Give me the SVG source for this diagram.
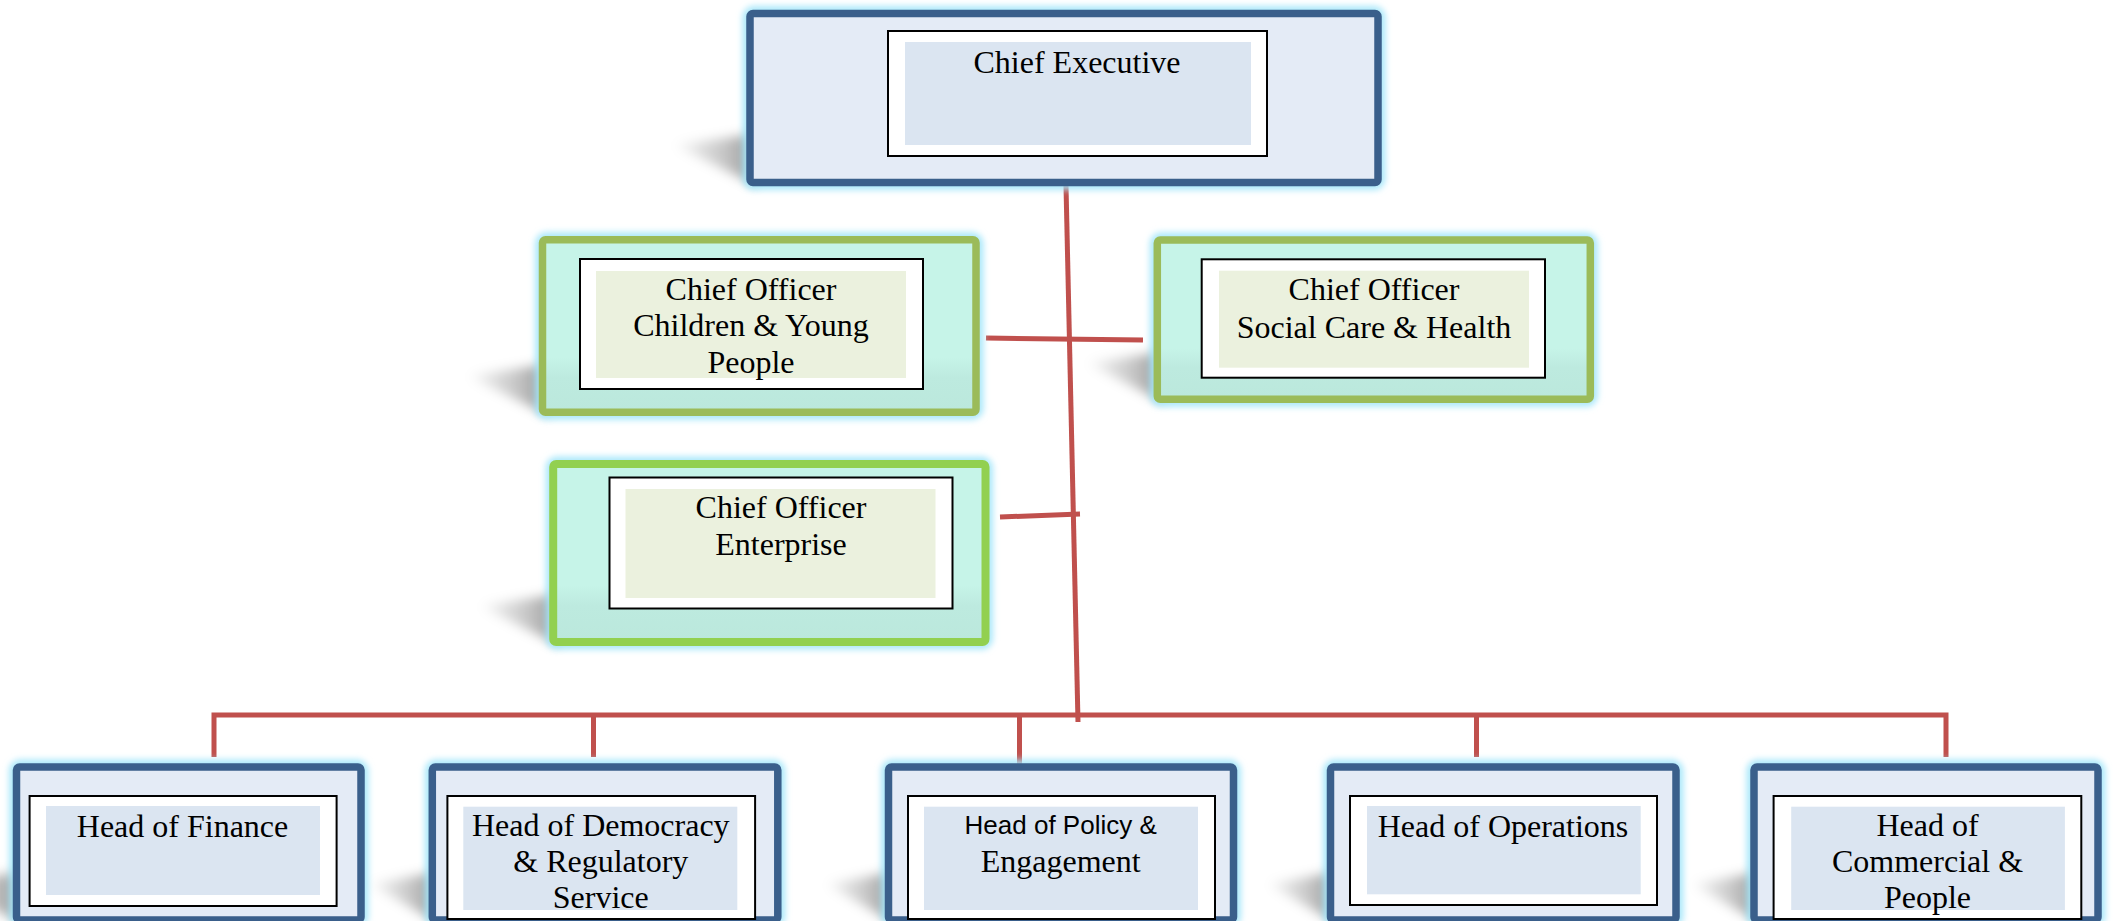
<svg xmlns="http://www.w3.org/2000/svg" width="2113" height="921" viewBox="0 0 2113 921">
<style>
.bg{fill:#ffffff}
.glow{fill:none;stroke:#A2E6F9;stroke-width:15;stroke-opacity:0.9;filter:url(#blur3)}
.shadow{fill:url(#shgrad);filter:url(#blur5)}
.outerB{fill:#E4EBF6;stroke:#3A5F8B;stroke-width:7.5}
.outerG{fill:url(#mint);stroke:#9BBB59;stroke-width:7.5}
.outerE{fill:url(#mint);stroke:#92D050;stroke-width:8}
.white{fill:#ffffff;stroke:#000000;stroke-width:2}
.fillB{fill:#DBE5F1}
.fillG{fill:#EBF1DE}
.t{font-family:"Liberation Serif","Times New Roman",serif;font-size:32px;fill:#000000;text-anchor:middle}
.ts{font-family:"Liberation Sans",Arial,sans-serif;font-size:26px;fill:#000000;text-anchor:middle}
.conn line,.conn polyline{stroke:#C0504D;stroke-width:5;fill:none}
</style>
<defs>
<filter id="blur3" x="-10%" y="-10%" width="120%" height="120%"><feGaussianBlur stdDeviation="3"/></filter>
<filter id="blur5" x="-40%" y="-40%" width="180%" height="180%"><feGaussianBlur stdDeviation="6"/></filter>
<linearGradient id="shgrad" x1="0" y1="0" x2="1" y2="0">
<stop offset="0" stop-color="#000" stop-opacity="0.02"/>
<stop offset="0.6" stop-color="#000" stop-opacity="0.22"/>
<stop offset="1" stop-color="#000" stop-opacity="0.4"/>
</linearGradient>
<linearGradient id="mint" x1="0" y1="0" x2="0" y2="1">
<stop offset="0" stop-color="#C6F4E8"/>
<stop offset="0.68" stop-color="#C6F4E8"/>
<stop offset="0.8" stop-color="#BDEADF"/>
<stop offset="1" stop-color="#BBE8DC"/>
</linearGradient>
</defs>
<rect class="bg" x="0" y="0" width="2113" height="921"/>

<g id="connectors" class="conn">
<line x1="1066" y1="186" x2="1078" y2="722"/>
<line x1="986" y1="338" x2="1143" y2="340"/>
<line x1="1000" y1="517" x2="1080" y2="514"/>
<polyline points="214,757 214,715 1946,715 1946,757"/>
<line x1="593.5" y1="715" x2="593.5" y2="757"/>
<line x1="1019.5" y1="715" x2="1019.5" y2="767"/>
<line x1="1476.5" y1="715" x2="1476.5" y2="757"/>
</g>

<g id="chief-executive">
<polygon class="shadow" points="756,134 756,185 674,145"/>
<rect class="glow" x="750" y="13.5" width="628" height="169" rx="4"/>
<rect class="outerB" x="750" y="13.5" width="628" height="169" rx="3"/>
<rect class="white" x="888" y="31" width="379" height="125"/>
<rect class="fillB" x="905" y="42" width="346" height="103"/>
<text class="t" x="1077" y="73">Chief Executive</text>
</g>

<g id="co-children">
<polygon class="shadow" points="548,364 548,415 468,376"/>
<rect class="glow" x="542.5" y="239.8" width="433.5" height="172.4" rx="4"/>
<rect class="outerG" x="542.5" y="239.8" width="433.5" height="172.4" rx="3"/>
<rect class="white" x="580" y="259" width="343" height="130"/>
<rect class="fillG" x="596" y="271" width="310" height="107"/>
<text class="t" x="751" y="300">Chief Officer</text>
<text class="t" x="751" y="336">Children &amp; Young</text>
<text class="t" x="751" y="372.5">People</text>
</g>

<g id="co-social">
<polygon class="shadow" points="1163,352 1163,402 1087,363"/>
<rect class="glow" x="1157.3" y="240" width="433" height="159.3" rx="4"/>
<rect class="outerG" x="1157.3" y="240" width="433" height="159.3" rx="3"/>
<rect class="white" x="1201.7" y="259.3" width="343.3" height="118.4"/>
<rect class="fillG" x="1219" y="270.7" width="310" height="97"/>
<text class="t" x="1374" y="300">Chief Officer</text>
<text class="t" x="1374" y="337.5">Social Care &amp; Health</text>
</g>

<g id="co-enterprise">
<polygon class="shadow" points="559,594 559,645 480,606"/>
<rect class="glow" x="553.2" y="464" width="432.3" height="178" rx="4"/>
<rect class="outerE" x="553.2" y="464" width="432.3" height="178" rx="3"/>
<rect class="white" x="609.5" y="477.5" width="343" height="131"/>
<rect class="fillG" x="625.5" y="489" width="310" height="109"/>
<text class="t" x="781" y="517.7">Chief Officer</text>
<text class="t" x="781" y="555">Enterprise</text>
</g>

<g id="head-finance">
<polygon class="shadow" points="22,872 22,923 -58,884"/>
<rect class="glow" x="16.5" y="767" width="344.5" height="153" rx="4"/>
<rect class="outerB" x="16.5" y="767" width="344.5" height="153" rx="3"/>
<rect class="white" x="29.6" y="796" width="307" height="110"/>
<rect class="fillB" x="46" y="806" width="274" height="89"/>
<text class="t" x="182.5" y="836.7">Head of Finance</text>
</g>

<g id="head-democracy">
<polygon class="shadow" points="438,872 438,923 370,884"/>
<rect class="glow" x="432.3" y="767" width="345.5" height="153" rx="4"/>
<rect class="outerB" x="432.3" y="767" width="345.5" height="153" rx="3"/>
<rect class="white" x="447.4" y="796" width="307.7" height="123"/>
<rect class="fillB" x="463.3" y="806.7" width="274" height="103.3"/>
<text class="t" x="600.8" y="836">Head of Democracy</text>
<text class="t" x="600.8" y="872">&amp; Regulatory</text>
<text class="t" x="600.8" y="908">Service</text>
</g>

<g id="head-policy">
<polygon class="shadow" points="894,872 894,923 826,884"/>
<rect class="glow" x="888.5" y="767" width="345" height="153" rx="4"/>
<rect class="outerB" x="888.5" y="767" width="345" height="153" rx="3"/>
<rect class="white" x="908" y="796" width="307" height="123"/>
<rect class="fillB" x="924" y="806.7" width="274" height="103.3"/>
<text class="ts" x="1060.7" y="834">Head of Policy &amp;</text>
<text class="t" x="1060.7" y="871.7">Engagement</text>
</g>

<g id="head-operations">
<polygon class="shadow" points="1336,872 1336,923 1268,884"/>
<rect class="glow" x="1330.5" y="767" width="345.5" height="153" rx="4"/>
<rect class="outerB" x="1330.5" y="767" width="345.5" height="153" rx="3"/>
<rect class="white" x="1350" y="796" width="307" height="109"/>
<rect class="fillB" x="1367" y="806" width="273.7" height="88.3"/>
<text class="t" x="1503" y="836.7">Head of Operations</text>
</g>

<g id="head-commercial">
<polygon class="shadow" points="1760,872 1760,923 1692,884"/>
<rect class="glow" x="1754" y="767" width="344" height="153" rx="4"/>
<rect class="outerB" x="1754" y="767" width="344" height="153" rx="3"/>
<rect class="white" x="1773.6" y="796" width="307.7" height="123"/>
<rect class="fillB" x="1791.2" y="806.7" width="273.7" height="103.3"/>
<text class="t" x="1927.5" y="836">Head of</text>
<text class="t" x="1927.5" y="871.7">Commercial &amp;</text>
<text class="t" x="1927.5" y="908">People</text>
</g>
</svg>
